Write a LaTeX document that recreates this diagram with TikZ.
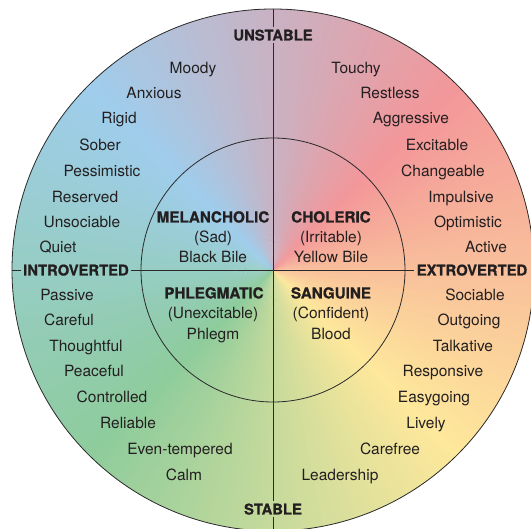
\documentclass[tikz,border=0pt]{standalone}
\usepackage{fontspec}
\setmainfont{TeX Gyre Heros}[BoldFeatures={FakeBold=0.9}]
\definecolor{s0}{HTML}{F3979A}
\definecolor{s1}{HTML}{9FCDEC}
\definecolor{s2}{HTML}{8ECC9C}
\definecolor{s3}{HTML}{FEE89B}
\definecolor{s4}{HTML}{F3979A}
\definecolor{txt}{HTML}{231F20}
\definecolor{lin}{HTML}{2A2A2A}
\begin{document}
\begin{tikzpicture}[x=1pt,y=-1pt,
  word/.style={font=\fontsize{15.5}{18}\selectfont, text=txt, inner sep=0pt, text height=11pt, text depth=0pt},
  axislabel/.style={font=\fontsize{14.8}{18}\selectfont\bfseries, text=txt, inner sep=2.5pt, text height=11pt, text depth=0pt},
  quadname/.style={font=\fontsize{15.2}{18}\selectfont\bfseries, text=txt, inner sep=0pt, text height=11pt, text depth=0pt},
  rule/.style={draw=lin, line width=0.9pt},
  ring/.style={circle, draw=lin, line width=0.8pt, inner sep=0pt}]
\useasboundingbox (0,0) rectangle (531,529);
\coordinate (c) at (273,270);
\begin{scope}
  \clip (c) circle[radius=261];
  \foreach \b in {0,...,359}{
    \pgfmathtruncatemacro\i{floor(\b/90)}
    \pgfmathtruncatemacro\j{\i+1}
    \pgfmathtruncatemacro\t{100-(\b-90*\i)*100/90}
    \pgfmathsetmacro\p{-(\b+45)}
    \fill[s\i!\t!s\j] (c) -- +(\p:280) -- +(\p-1.6:280) -- cycle;
  }
\end{scope}
\node[ring, minimum size=522pt] (outer) at (c) {};
\node[ring, minimum size=264pt] (inner) at (c) {};

% axis labels
\node[axislabel] (unstable) at (273,35) {UNSTABLE};
\node[axislabel] (stable) at (273,509) {STABLE};
\node[axislabel] (introverted) at (76,270) {INTROVERTED};
\node[axislabel] (extroverted) at (472,270) {EXTROVERTED};

\draw[rule] (outer.north) -- (unstable.north);
\draw[rule] (unstable.south) -- (stable.north);
\draw[rule] (stable.south) -- (outer.south);
\draw[rule] (outer.west) -- (introverted.west);
\draw[rule] (introverted.east) -- (extroverted.west);

% left words
\node[word] (moody) at (193,68) {Moody};
\node[word] (anxious) at (154,93) {Anxious};
\node[word] (rigid) at (119,118) {Rigid};
\node[word] (sober) at (100,145) {Sober};
\node[word] (pessimistic) at (102,171) {Pessimistic};
\node[word] (reserved) at (85,197) {Reserved};
\node[word] (unsociable) at (82,222) {Unsociable};
\node[word] (quiet) at (58,247) {Quiet};
\node[word] (passive) at (67,295) {Passive};
\node[word] (careful) at (69,320) {Careful};
\node[word] (thoughtful) at (86,346) {Thoughtful};
\node[word] (peaceful) at (94,371) {Peaceful};
\node[word] (controlled) at (112,397) {Controlled};
\node[word] (reliable) at (128,423) {Reliable};
\node[word] (eventempered) at (180,449) {Even-tempered};
\node[word] (calm) at (184,475) {Calm};

% right words
\node[word] (touchy) at (356,68) {Touchy};
\node[word] (restless) at (390,93) {Restless};
\node[word] (aggressive) at (411,118) {Aggressive};
\node[word] (excitable) at (437,145) {Excitable};
\node[word] (changeable) at (443,171) {Changeable};
\node[word] (impulsive) at (461,197) {Impulsive};
\node[word] (optimistic) at (468,222) {Optimistic};
\node[word] (active) at (486,247) {Active};
\node[word] (sociable) at (475,295) {Sociable};
\node[word] (outgoing) at (469,320) {Outgoing};
\node[word] (talkative) at (463,346) {Talkative};
\node[word] (responsive) at (443,371) {Responsive};
\node[word] (easygoing) at (434,397) {Easygoing};
\node[word] (lively) at (426,423) {Lively};
\node[word] (carefree) at (390,449) {Carefree};
\node[word] (leadership) at (340,475) {Leadership};

% quadrants
\node[quadname] (mel) at (213,217) {MELANCHOLIC};
\node[word] (mel2) at (213,237) {(Sad)};
\node[word] (mel3) at (213,257) {Black Bile};
\node[quadname] (cho) at (331,217) {CHOLERIC};
\node[word] (cho2) at (331,237) {(Irritable)};
\node[word] (cho3) at (331,257) {Yellow Bile};
\node[quadname] (phl) at (214,293) {PHLEGMATIC};
\node[word] (phl2) at (213,313) {(Unexcitable)};
\node[word] (phl3) at (213,334) {Phlegm};
\node[quadname] (san) at (331,293) {SANGUINE};
\node[word] (san2) at (331,313) {(Confident)};
\node[word] (san3) at (331,334) {Blood};
\end{tikzpicture}
\end{document}
